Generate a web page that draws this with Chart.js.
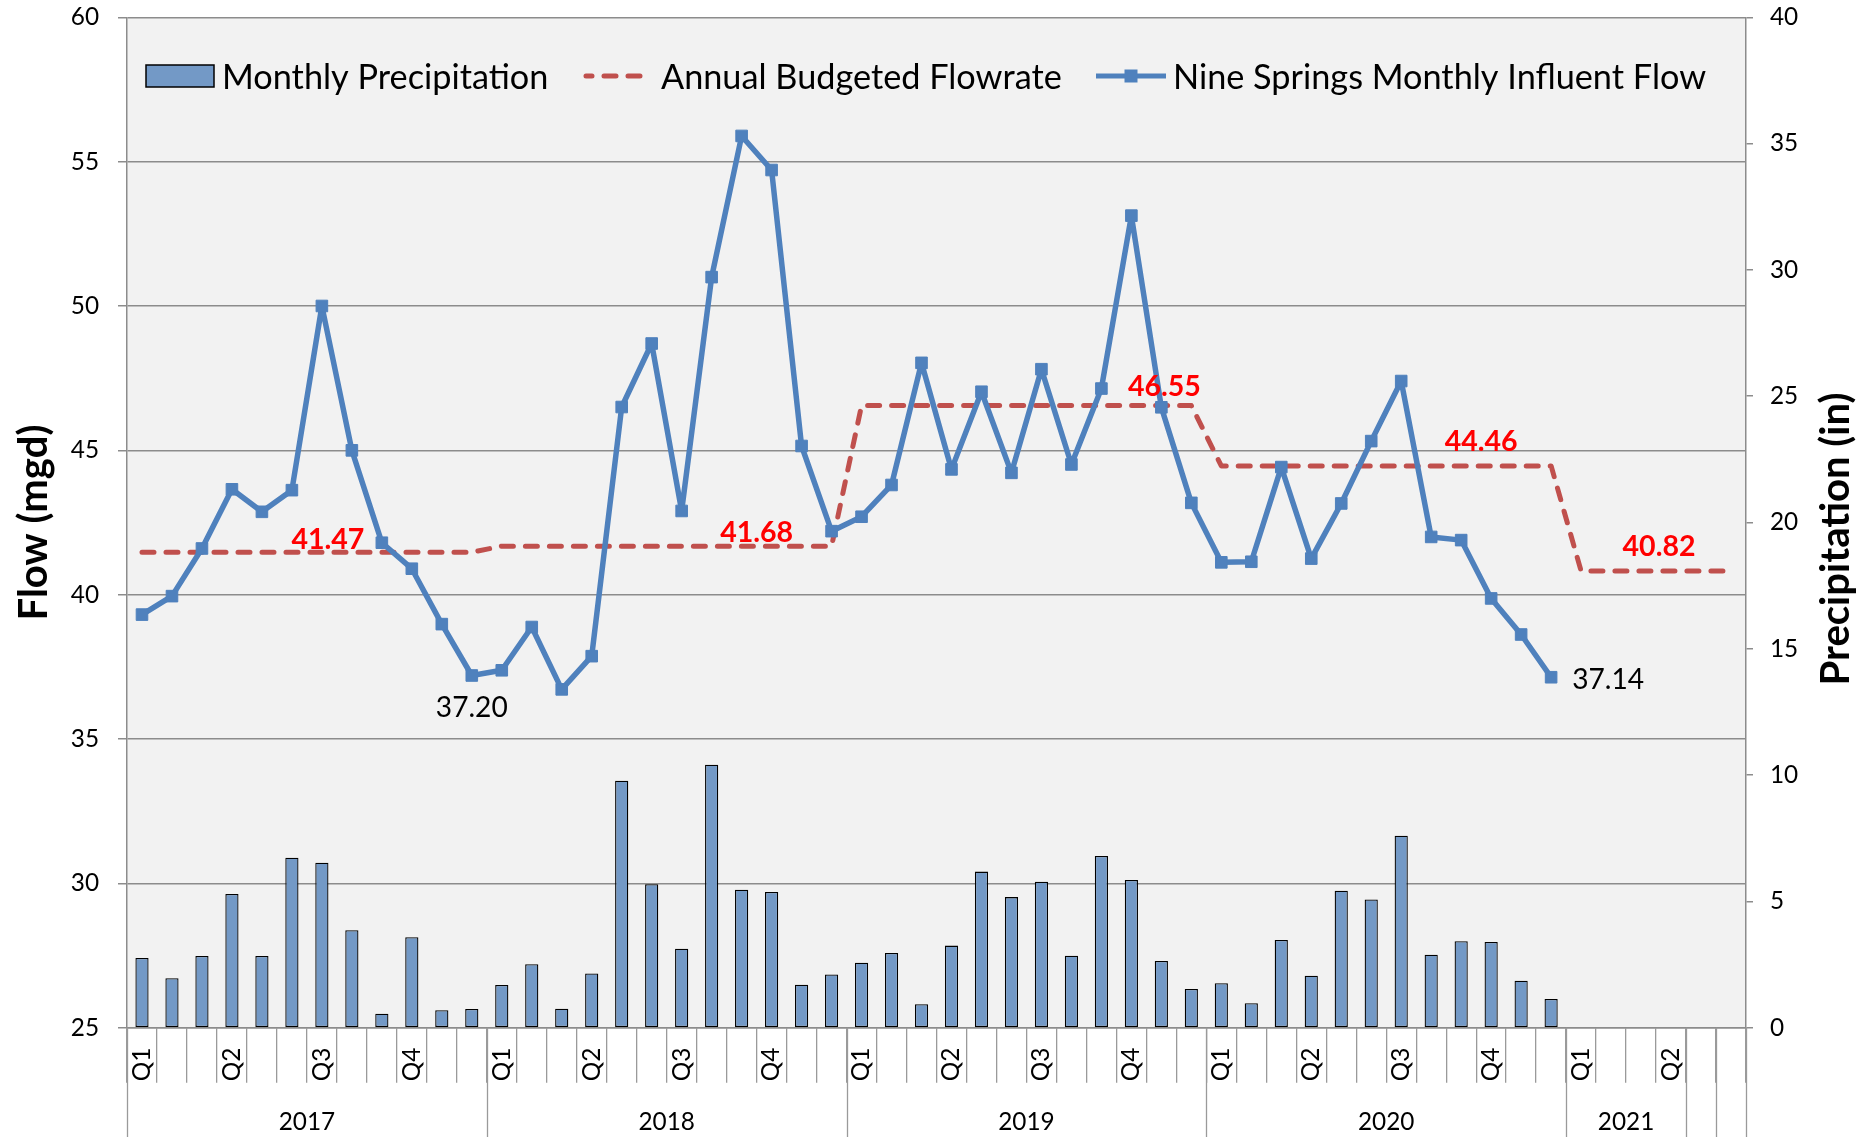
<!DOCTYPE html>
<html>
<head>
<meta charset="utf-8">
<script src="https://cdn.jsdelivr.net/npm/chart.js@4.4.1/dist/chart.umd.min.js"></script>
<style>
  html, body { margin: 0; padding: 0; background: #ffffff; }
  #wrap { width: 1862px; height: 1137px; }
</style>
</head>
<body>
<div id="wrap"><canvas id="c" width="1862" height="1137"></canvas></div>
<script>
// ---------------- DATA ----------------
const categories = [
  'Jan 2017','Feb 2017','Mar 2017','Apr 2017','May 2017','Jun 2017','Jul 2017','Aug 2017','Sep 2017','Oct 2017','Nov 2017','Dec 2017',
  'Jan 2018','Feb 2018','Mar 2018','Apr 2018','May 2018','Jun 2018','Jul 2018','Aug 2018','Sep 2018','Oct 2018','Nov 2018','Dec 2018',
  'Jan 2019','Feb 2019','Mar 2019','Apr 2019','May 2019','Jun 2019','Jul 2019','Aug 2019','Sep 2019','Oct 2019','Nov 2019','Dec 2019',
  'Jan 2020','Feb 2020','Mar 2020','Apr 2020','May 2020','Jun 2020','Jul 2020','Aug 2020','Sep 2020','Oct 2020','Nov 2020','Dec 2020',
  'Jan 2021','Feb 2021','Mar 2021','Apr 2021','May 2021','Jun 2021'
];
const quarterLabels = [
  'Q1','','','Q2','','','Q3','','','Q4','','',
  'Q1','','','Q2','','','Q3','','','Q4','','',
  'Q1','','','Q2','','','Q3','','','Q4','','',
  'Q1','','','Q2','','','Q3','','','Q4','','',
  'Q1','','','Q2','',''
];
const yearLabels = ['2017', '2018', '2019', '2020', '2021', '', ''];
const yearSpans  = [12, 12, 12, 12, 4, 1, 1];

const precipitation = [
  2.76, 1.96, 2.84, 5.29, 2.84, 6.73, 6.53, 3.86, 0.55, 3.58, 0.69, 0.74,
  1.69, 2.51, 0.75, 2.15, 9.78, 5.68, 3.13, 10.41, 5.46, 5.37, 1.70, 2.11,
  2.57, 2.96, 0.93, 3.25, 6.18, 5.17, 5.78, 2.85, 6.80, 5.85, 2.64, 1.53,
  1.76, 0.97, 3.47, 2.06, 5.42, 5.08, 7.60, 2.89, 3.42, 3.39, 1.86, 1.14
];
const influentFlow = [
  39.31, 39.95, 41.60, 43.65, 42.87, 43.62, 50.00, 45.00, 41.80, 40.90, 38.98, 37.20,
  37.38, 38.88, 36.72, 37.87, 46.50, 48.70, 42.90, 51.00, 55.89, 54.71, 45.15, 42.20,
  42.70, 43.80, 48.03, 44.34, 47.03, 44.22, 47.81, 44.51, 47.14, 53.13, 46.49, 43.18,
  41.12, 41.14, 44.42, 41.25, 43.16, 45.32, 47.40, 42.00, 41.89, 39.87, 38.62, 37.14
];
const budgetedFlow = [
  41.47, 41.47, 41.47, 41.47, 41.47, 41.47, 41.47, 41.47, 41.47, 41.47, 41.47, 41.47,
  41.68, 41.68, 41.68, 41.68, 41.68, 41.68, 41.68, 41.68, 41.68, 41.68, 41.68, 41.68,
  46.55, 46.55, 46.55, 46.55, 46.55, 46.55, 46.55, 46.55, 46.55, 46.55, 46.55, 46.55,
  44.46, 44.46, 44.46, 44.46, 44.46, 44.46, 44.46, 44.46, 44.46, 44.46, 44.46, 44.46,
  40.82, 40.82, 40.82, 40.82, 40.82, 40.82
];
const flowAxis   = { min: 25, max: 60, step: 5 };
const precipAxis = { min: 0, max: 40, step: 5 };

// which points carry value labels
const budgetLabelIdx = [6, 20, 34, 45, 51];
const budgetLabelDx  = [6, 15, 3, -10, -12];
const budgetLabelDy  = [-14, -15, -20, -25, -25];
const flowLabelIdx   = [11, 47];
const flowLabelDx    = [0, 57];
const flowLabelDy    = [31, 1];

// ---------------- STYLE ----------------
const FONT = 'Lato';
const BLUE = '#4F81BD';
const RED = '#C0504D';
const BAR = '#7399C6';
const GRID = '#8c8c8c';
const TICK = '#9a9a9a';

function fit(text, target, weight) {
  const c = document.createElement('canvas').getContext('2d');
  c.font = weight + ' 100px ' + FONT;
  return 100 * target / c.measureText(text).width;
}
const tickPx = fit('2017', 56.5, 'normal');
const dataPx = fit('37.20', 72, 'normal');
const boldPx = fit('41.47', 73, 'bold');
const legendPx = fit('Monthly Precipitation Annual Budgeted Flowrate Nine Springs Monthly Influent Flow', 1261 + 2 * 0.23 * 37, 'normal');
const titlePx = fit('Flow (mgd)Precipitation (in)', 195 + 294, 'bold');

function inkText(ctx, text, x, cy, align) {
  const m = ctx.measureText(text);
  ctx.textAlign = align || 'center';
  ctx.textBaseline = 'alphabetic';
  ctx.fillText(text, x, cy + (m.actualBoundingBoxAscent - m.actualBoundingBoxDescent) / 2);
}
function inkTextCap(ctx, text, x, cy) {
  const m = ctx.measureText('M');
  ctx.textAlign = 'left';
  ctx.textBaseline = 'alphabetic';
  ctx.fillText(text, x, cy + m.actualBoundingBoxAscent / 2);
}

const decor = {
  id: 'decor',
  beforeDraw(chart) {
    const { ctx, chartArea: a } = chart;
    ctx.save();
    ctx.fillStyle = '#F2F2F2';
    ctx.fillRect(a.left, a.top, a.right - a.left, a.bottom - a.top);
    ctx.restore();
  },
  afterDatasetsDraw(chart) {
    const ctx = chart.ctx;
    ctx.save();
    const bm = chart.getDatasetMeta(1);
    ctx.fillStyle = '#FF0000';
    ctx.font = 'bold ' + boldPx + 'px ' + FONT;
    budgetLabelIdx.forEach((i, k) => {
      const p = bm.data[i];
      inkText(ctx, budgetedFlow[i].toFixed(2), p.x + budgetLabelDx[k], p.y + budgetLabelDy[k], 'center');
    });
    const fm = chart.getDatasetMeta(0);
    ctx.fillStyle = '#000000';
    ctx.font = dataPx + 'px ' + FONT;
    flowLabelIdx.forEach((i, k) => {
      const p = fm.data[i];
      inkText(ctx, influentFlow[i].toFixed(2), p.x + flowLabelDx[k], p.y + flowLabelDy[k], 'center');
    });
    ctx.restore();
  },
  afterDraw(chart) {
    const { ctx, chartArea: a } = chart;
    const xs = chart.scales.x;
    const n = categories.length;
    const half = (xs.getPixelForValue(1) - xs.getPixelForValue(0)) / 2;
    ctx.save();
    ctx.strokeStyle = TICK;
    ctx.lineWidth = 1.3;
    let start = 0;
    const bounds = [0];
    yearSpans.forEach(s => { start += s; bounds.push(start); });
    bounds.forEach(b => {
      const x = b < n ? xs.getPixelForValue(b) - half : xs.getPixelForValue(n - 1) + half;
      ctx.beginPath();
      ctx.moveTo(Math.round(x) + 0.5, a.bottom);
      ctx.lineTo(Math.round(x) + 0.5, chart.height);
      ctx.stroke();
    });
    ctx.fillStyle = '#000';
    ctx.font = tickPx + 'px ' + FONT;
    yearLabels.forEach((lab, k) => {
      if (!lab) return;
      const s = bounds[k], e = bounds[k + 1] - 1;
      const cx = (xs.getPixelForValue(s) + xs.getPixelForValue(e)) / 2;
      inkText(ctx, lab, cx, a.bottom + 92.8, 'center');
    });
    // right axis title (reads bottom to top)
    ctx.font = 'bold ' + titlePx + 'px ' + FONT;
    ctx.translate(chart.width - 26, (a.top + a.bottom) / 2 + 16.5);
    ctx.rotate(-Math.PI / 2);
    inkText(ctx, 'Precipitation (in)', 0, 0, 'center');
    ctx.setTransform(1, 0, 0, 1, 0, 0);

    // legend
    const ly = a.top + 58.7;
    ctx.font = legendPx + 'px ' + FONT;
    ctx.fillStyle = BAR;
    ctx.fillRect(146, ly - 11, 68, 22);
    ctx.strokeStyle = '#000';
    ctx.lineWidth = 1.5;
    ctx.strokeRect(146, ly - 11, 68, 22);
    ctx.fillStyle = '#000';
    inkTextCap(ctx, 'Monthly Precipitation', 222, ly);

    ctx.strokeStyle = RED;
    ctx.lineWidth = 5;
    ctx.lineCap = 'round';
    ctx.setLineDash([12, 12]);
    ctx.lineDashOffset = 6;
    ctx.beginPath(); ctx.moveTo(586, ly); ctx.lineTo(646, ly); ctx.stroke();
    ctx.setLineDash([]);
    inkTextCap(ctx, 'Annual Budgeted Flowrate', 661, ly);

    ctx.strokeStyle = BLUE;
    ctx.lineCap = 'butt';
    ctx.beginPath(); ctx.moveTo(1096, ly); ctx.lineTo(1166, ly); ctx.stroke();
    ctx.fillStyle = BLUE;
    ctx.fillRect(1131 - 6.5, ly - 6.5, 13, 13);
    ctx.fillStyle = '#000';
    inkTextCap(ctx, 'Nine Springs Monthly Influent Flow', 1173, ly);
    ctx.restore();
  }
};

function noPadY(s, w) { s.width = w; s.paddingTop = 0; s.paddingBottom = 0; }

new Chart(document.getElementById('c'), {
  type: 'bar',
  data: {
    labels: categories,
    datasets: [
      {
        type: 'line', label: 'Nine Springs Monthly Influent Flow', data: influentFlow, yAxisID: 'y',
        borderColor: BLUE, backgroundColor: BLUE, borderWidth: 5.5, tension: 0, borderJoinStyle: 'round',
        pointStyle: 'rect', pointRadius: 8.2, pointBorderWidth: 1, pointBackgroundColor: BLUE, pointBorderColor: BLUE,
        order: 1
      },
      {
        type: 'line', label: 'Annual Budgeted Flowrate', data: budgetedFlow, yAxisID: 'y',
        borderColor: RED, backgroundColor: RED, borderWidth: 5, borderDash: [12, 12], borderCapStyle: 'round',
        borderJoinStyle: 'round', pointRadius: 0, tension: 0, order: 2
      },
      {
        type: 'bar', label: 'Monthly Precipitation', data: precipitation, yAxisID: 'y2',
        backgroundColor: BAR, borderColor: '#000000', borderWidth: 1.3, borderSkipped: false,
        barPercentage: 0.44, categoryPercentage: 1.0, order: 3
      }
    ]
  },
  options: {
    responsive: false,
    animation: false,
    events: [],
    layout: { padding: { top: 17.3, left: 0, right: 0, bottom: 0 } },
    plugins: { legend: { display: false }, tooltip: { enabled: false } },
    scales: {
      x: {
        type: 'category', position: 'bottom', offset: true,
        grid: { offset: true, drawOnChartArea: false, drawTicks: true, tickLength: 55, color: TICK, lineWidth: 1.3 },
        border: { display: true, color: GRID, width: 1.5 },
        ticks: {
          autoSkip: false, minRotation: 90, maxRotation: 90, padding: -35, color: '#000',
          font: { family: FONT, size: tickPx },
          callback: (v, i) => quarterLabels[i]
        },
        afterFit: (s) => { s.height = 1137 - 1027.7; s.paddingLeft = 0; s.paddingRight = 0; }
      },
      y: {
        position: 'left', min: flowAxis.min, max: flowAxis.max,
        ticks: { stepSize: flowAxis.step, padding: 19, color: '#000', font: { family: FONT, size: tickPx } },
        grid: { color: GRID, lineWidth: 1.5, tickLength: 9, drawTicks: true },
        border: { display: true, color: GRID, width: 1.5 },
        title: { display: true, text: 'Flow (mgd)', color: '#000', font: { family: FONT, size: titlePx, weight: 'bold' }, padding: { top: 10, bottom: 0 } },
        afterFit: (s) => noPadY(s, 127)
      },
      y2: {
        position: 'right', min: precipAxis.min, max: precipAxis.max,
        ticks: { stepSize: precipAxis.step, padding: 17, color: '#000', font: { family: FONT, size: tickPx } },
        grid: { drawOnChartArea: false, color: GRID, lineWidth: 1.5, tickLength: 7, drawTicks: true },
        border: { display: true, color: GRID, width: 1.5 },
        afterFit: (s) => noPadY(s, 116)
      }
    }
  },
  plugins: [decor]
});
</script>
</body>
</html>
